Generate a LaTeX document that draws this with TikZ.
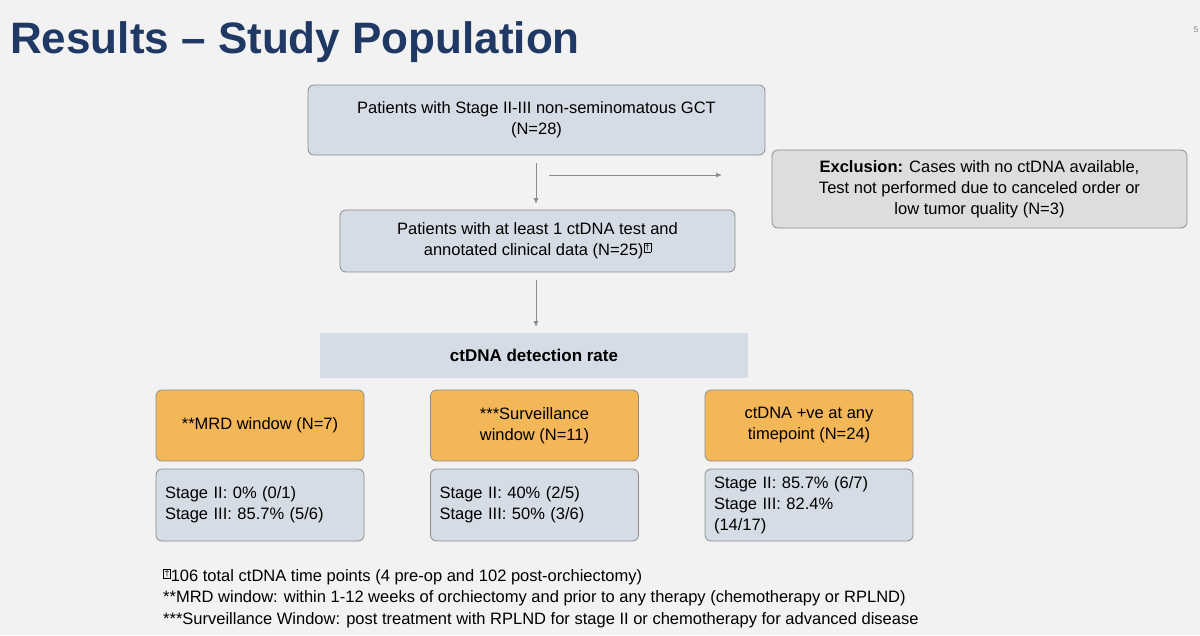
\documentclass[tikz,border=0pt]{standalone}
\usepackage{fontspec}
\setmainfont{Liberation Sans}
\usetikzlibrary{arrows.meta}
\definecolor{bgc}{HTML}{F2F2F2}
\definecolor{boxb}{HTML}{D6DCE5}
\definecolor{boxg}{HTML}{DDDDDD}
\definecolor{orng}{HTML}{F3B757}
\definecolor{titc}{HTML}{1F3864}
\definecolor{edge}{HTML}{8C8C8C}
\newcommand{\dagbox}{{\setlength{\fboxsep}{0.8pt}\setlength{\fboxrule}{0.5pt}\raisebox{5pt}{\fbox{\fontsize{9}{9}\selectfont\dag}}}}
\begin{document}
\begin{tikzpicture}[x=1pt,y=-1pt,
  bx/.style={draw=edge,line width=0.8pt,rounded corners=6pt,fill=boxb,align=center,font=\fontsize{16.5}{21}\selectfont},
  arr/.style={draw=edge,line width=0.9pt,-{Latex[length=6pt,width=5pt]}},
  txt/.style={font=\fontsize{16.5}{21}\selectfont,anchor=west,inner sep=0}]
\fill[bgc] (0,0) rectangle (1200,635);
\useasboundingbox (0,0) rectangle (1200,635);
\node[anchor=west,inner sep=0,text=titc,font=\bfseries\fontsize{44}{44}\selectfont] (title) at (10,42) {Results – Study Population};
\node[font=\fontsize{8}{8}\selectfont,text=gray,inner sep=0] (pg) at (1196,30) {5};
\node[bx,minimum width=457,minimum height=70] (top) at (536.5,120) {Patients with Stage II-III non-seminomatous GCT\\(N=28)};
\node[bx,fill=boxg,minimum width=415,minimum height=78] (ex) at (979.5,189) {\textbf{Exclusion:} Cases with no ctDNA available,\\Test not performed due to canceled order or\\low tumor quality (N=3)};
\node[bx,minimum width=395,minimum height=62] (sec) at (537.5,241) {Patients with at least 1 ctDNA test and\\annotated clinical data (N=25)\dagbox};
\node[fill=boxb,minimum width=428,minimum height=45,font=\bfseries\fontsize{17}{21}\selectfont] (rate) at (534,355.5) {ctDNA detection rate};
\foreach \n/\cx/\t/\s in {a/260/{**MRD window (N=7)}/{Stage II: 0\% (0/1)\\Stage III: 85.7\% (5/6)},
  b/534.5/{***Surveillance\\window (N=11)}/{Stage II: 40\% (2/5)\\Stage III: 50\% (3/6)},
  c/809/{ctDNA +ve at any\\timepoint (N=24)}/{Stage II: 85.7\% (6/7)\\Stage III: 82.4\%\\(14/17)}}{
  \node[bx,fill=orng,minimum width=208,minimum height=71] (o\n) at (\cx,425.5) {\t};
  \node[bx,minimum width=208,minimum height=72,align=left,text width=190] (s\n) at (\cx,505) {\s};
}
\coordinate (t1) at (536,163);
\coordinate (t2) at (536,204);
\coordinate (h1) at (549,175);
\coordinate (h2) at (722,175);
\coordinate (m1) at (536,280);
\coordinate (m2) at (536,327);
\draw[arr] (t1) -- (t2);
\draw[arr] (h1) -- (h2);
\draw[arr] (m1) -- (m2);
\node[txt] (f1) at (163,577) {\dagbox106 total ctDNA time points (4 pre-op and 102 post-orchiectomy)};
\node[txt] (f2) at (163,598.5) {**MRD window: within 1-12 weeks of orchiectomy and prior to any therapy (chemotherapy or RPLND)};
\node[txt] (f3) at (163,620) {***Surveillance Window: post treatment with RPLND for stage II or chemotherapy for advanced disease};
\end{tikzpicture}
\end{document}
